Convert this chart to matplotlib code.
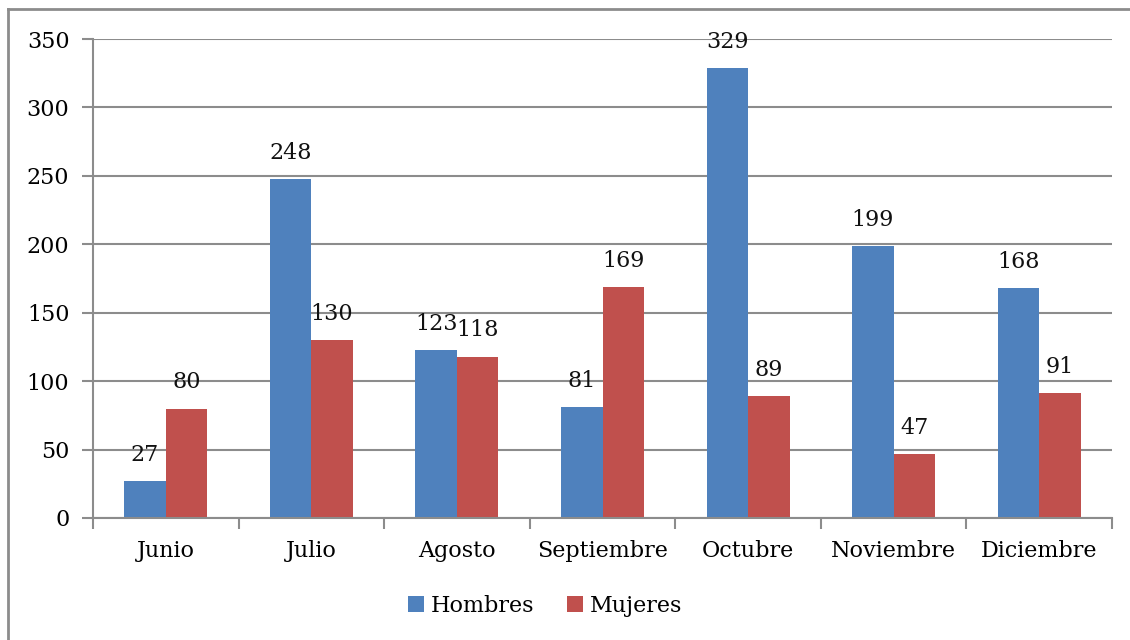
import matplotlib
matplotlib.use('Agg')
from matplotlib import pyplot as plt
from matplotlib.lines import Line2D
import numpy as np

meses = ['Junio', 'Julio', 'Agosto', 'Septiembre', 'Octubre', 'Noviembre', 'Diciembre']
hombres = [27, 248, 123, 81, 329, 199, 168]
mujeres = [80, 130, 118, 169, 89, 47, 91]
series = ['Hombres', 'Mujeres']
y_ticks = [0, 50, 100, 150, 200, 250, 300, 350]

plt.rcParams['font.family'] = ['DejaVu Serif']
gris = '#8c8c8c'
fs = 16

fig = plt.figure(figsize=(11.3, 6.4), dpi=100)
ax = fig.add_axes([93/1130, 1-518/640, (1112-93)/1130, (518-39)/640])

x = np.arange(len(meses))
w = 0.285
b1 = ax.bar(x - w/2, hombres, w, color='#4f81bd', label=series[0], zorder=3)
b2 = ax.bar(x + w/2, mujeres, w, color='#c0504d', label=series[1], zorder=3)

for bars in (b1, b2):
    for r in bars:
        ax.text(r.get_x() + r.get_width()/2, r.get_height() + 11, str(int(r.get_height())),
                ha='center', va='bottom', fontsize=fs, color='#111111')

ax.set_xlim(-0.5, len(meses) - 0.5)
ax.set_ylim(0, 350)
ax.set_yticks(y_ticks)
ax.set_xticks(x)
ax.set_xticklabels(meses)
ax.set_xticks(np.arange(-0.5, len(meses)), minor=True)
ax.tick_params(axis='x', which='major', length=0, pad=16, labelsize=fs)
ax.tick_params(axis='x', which='minor', length=8, width=1.5, color=gris, direction='out')
ax.tick_params(axis='y', length=8, width=1.5, color=gris, pad=9, labelsize=fs)
ax.yaxis.grid(True, color=gris, linewidth=1.5, zorder=0)
for s in ['top', 'right']:
    ax.spines[s].set_visible(False)
for s in ['left', 'bottom']:
    ax.spines[s].set_color(gris)
    ax.spines[s].set_linewidth(1.5)
    ax.spines[s].set_zorder(4)

ax.legend(loc='center', bbox_to_anchor=(545/1130, 1-606/640), bbox_transform=fig.transFigure,
          ncol=2, frameon=False, fontsize=fs, handlelength=0.7, handleheight=0.7,
          handletextpad=0.3, columnspacing=1.5)

# marco exterior (solo arriba e izquierda visibles)
bx, by = 8/1130, 1 - 9/640
fig.add_artist(Line2D([bx, 1.0], [by, by], transform=fig.transFigure, color=gris, linewidth=2))
fig.add_artist(Line2D([bx, bx], [0.0, by], transform=fig.transFigure, color=gris, linewidth=2))

fig.savefig('out.png', dpi=100)
